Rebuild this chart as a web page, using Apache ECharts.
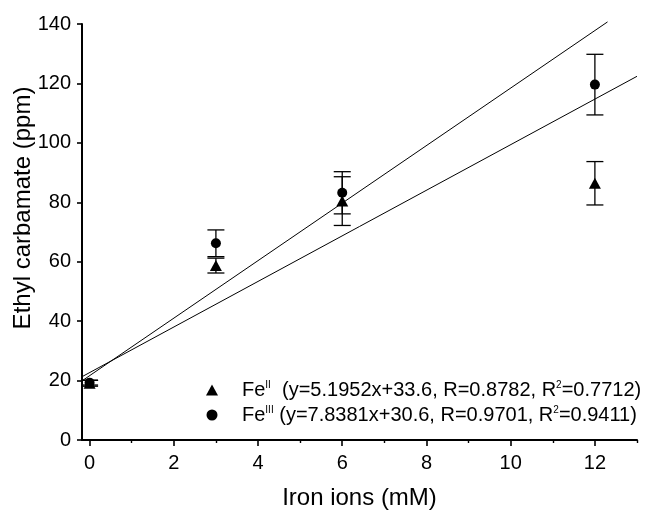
<!DOCTYPE html>
<html>
<head>
<meta charset="utf-8">
<script src="https://cdn.jsdelivr.net/npm/echarts@6/dist/echarts.min.js"></script>
<style>
  html, body { margin: 0; padding: 0; background: #fff; }
  #chart { width: 651px; height: 510px; }
</style>
</head>
<body>
<div id="chart"></div>
<script>
// Iron ion concentrations (mM)
const ironConc = [0, 3, 6, 12];

// Ethyl carbamate (ppm), mean and error for each iron species
const fe2Mean = [19.1, 58.7, 80.4, 86.4];
const fe2Err  = [1.0, 2.5, 8.2, 7.3];
const fe3Mean = [19.3, 66.2, 83.2, 119.6];
const fe3Err  = [0.8, 4.5, 7.1, 10.2];

// Regression lines as drawn, endpoints [x, y]
const lineSteep   = [[-0.18, 19.9], [12.30, 140.7]];
const lineShallow = [[-0.18, 21.3], [13.0, 122.4]];

// Axis ticks
const xMajorTicks = [0, 2, 4, 6, 8, 10, 12];
const xMinorTicks = [1, 3, 5, 7, 9, 11, 13];

// Legend entries: [superscript, equation head, R^2 value]
const fe2Legend = ['II', '  (y=5.1952x+33.6, R=0.8782, R', '=0.7712)'];
const fe3Legend = ['III', ' (y=7.8381x+30.6, R=0.9701, R', '=0.9411)'];

const FONT = '"Liberation Sans", Arial, Helvetica, sans-serif';

function errData(means, errs) {
  return ironConc.map((x, i) => [x, means[i] - errs[i], means[i] + errs[i]]);
}

function renderErr(params, api) {
  const x = api.value(0);
  const lo = api.coord([x, api.value(1)]);
  const hi = api.coord([x, api.value(2)]);
  const half = 8.5;
  const style = { stroke: '#000', lineWidth: 1.3 };
  return {
    type: 'group',
    children: [
      { type: 'line', shape: { x1: lo[0], y1: lo[1], x2: hi[0], y2: hi[1] }, style },
      { type: 'line', shape: { x1: hi[0] - half, y1: hi[1], x2: hi[0] + half, y2: hi[1] }, style },
      { type: 'line', shape: { x1: lo[0] - half, y1: lo[1], x2: lo[0] + half, y2: lo[1] }, style }
    ]
  };
}

const chart = echarts.init(document.getElementById('chart'), null, { renderer: 'canvas' });

chart.setOption({
  animation: false,
  backgroundColor: '#fff',
  textStyle: { fontFamily: FONT, color: '#000' },
  grid: { left: 82, right: 14, top: 24, bottom: 70, containLabel: false, outerBoundsMode: 'none' },
  legend: {
    left: 201,
    top: 375,
    orient: 'vertical',
    itemWidth: 12,
    itemHeight: 11,
    itemGap: 5,
    selectedMode: false,
    data: [
      { name: 'FeII', icon: 'triangle' },
      { name: 'FeIII', icon: 'circle' }
    ],
    formatter: function (name) {
      const parts = name === 'FeII' ? fe2Legend : fe3Legend;
      return '{b|Fe}{s|' + parts[0] + '}{b|' + parts[1] + '}{s|2}{b|' + parts[2] + '}';
    },
    textStyle: {
      fontFamily: FONT,
      color: '#000',
      padding: [0, 0, 0, 19],
      rich: {
        b: { fontFamily: FONT, fontSize: 20, lineHeight: 20, color: '#000' },
        s: { fontFamily: FONT, fontSize: 10, lineHeight: 10, verticalAlign: 'top', color: '#000' }
      }
    }
  },
  xAxis: [
    {
      type: 'value',
      min: -0.18,
      max: 13,
      name: 'Iron ions (mM)',
      nameLocation: 'middle',
      nameGap: 46,
      nameMoveOverlap: false,
      nameTextStyle: { fontFamily: FONT, fontSize: 24, color: '#000' },
      axisLine: { onZero: false, lineStyle: { color: '#000', width: 2 } },
      axisTick: { show: true, customValues: xMajorTicks, length: 6, lineStyle: { color: '#000', width: 1.6 } },
      axisLabel: { customValues: xMajorTicks, margin: 13, fontFamily: FONT, fontSize: 20, color: '#000' },
      splitLine: { show: false }
    },
    {
      type: 'value',
      min: -0.18,
      max: 13,
      position: 'bottom',
      axisLine: { show: false },
      axisTick: { show: true, customValues: xMinorTicks, length: 3, lineStyle: { color: '#000', width: 1.4 } },
      axisLabel: { show: false },
      splitLine: { show: false }
    }
  ],
  yAxis: {
    type: 'value',
    min: 0,
    max: 140,
    interval: 20,
    name: 'Ethyl carbamate (ppm)',
    nameLocation: 'middle',
    nameGap: 47,
    nameMoveOverlap: false,
    nameTextStyle: { fontFamily: FONT, fontSize: 24, color: '#000', padding: [0, 0, 0, 48] },
    axisLine: { show: true, onZero: false, lineStyle: { color: '#000', width: 2 } },
    axisTick: { show: true, length: 5, lineStyle: { color: '#000', width: 1.6 } },
    axisLabel: { margin: 11, fontFamily: FONT, fontSize: 20, color: '#000' },
    splitLine: { show: false }
  },
  series: [
    {
      name: 'fit-steep',
      type: 'line',
      data: lineSteep,
      symbol: 'none',
      clip: false,
      lineStyle: { color: '#000', width: 1 },
      z: 1
    },
    {
      name: 'fit-shallow',
      type: 'line',
      data: lineShallow,
      symbol: 'none',
      clip: false,
      lineStyle: { color: '#000', width: 1 },
      z: 1
    },
    {
      name: 'FeIII-err',
      type: 'custom',
      renderItem: renderErr,
      data: errData(fe3Mean, fe3Err),
      encode: { x: 0, y: [1, 2] },
      z: 2
    },
    {
      name: 'FeII-err',
      type: 'custom',
      renderItem: renderErr,
      data: errData(fe2Mean, fe2Err),
      encode: { x: 0, y: [1, 2] },
      z: 2
    },
    {
      name: 'FeIII',
      type: 'scatter',
      data: ironConc.map((x, i) => [x, fe3Mean[i]]),
      symbol: 'circle',
      symbolSize: 10,
      itemStyle: { color: '#000', opacity: 1 },
      z: 3
    },
    {
      name: 'FeII',
      type: 'scatter',
      data: ironConc.map((x, i) => [x, fe2Mean[i]]),
      symbol: 'triangle',
      symbolSize: [12, 11],
      itemStyle: { color: '#000', opacity: 1 },
      z: 4
    }
  ]
});
</script>
</body>
</html>
